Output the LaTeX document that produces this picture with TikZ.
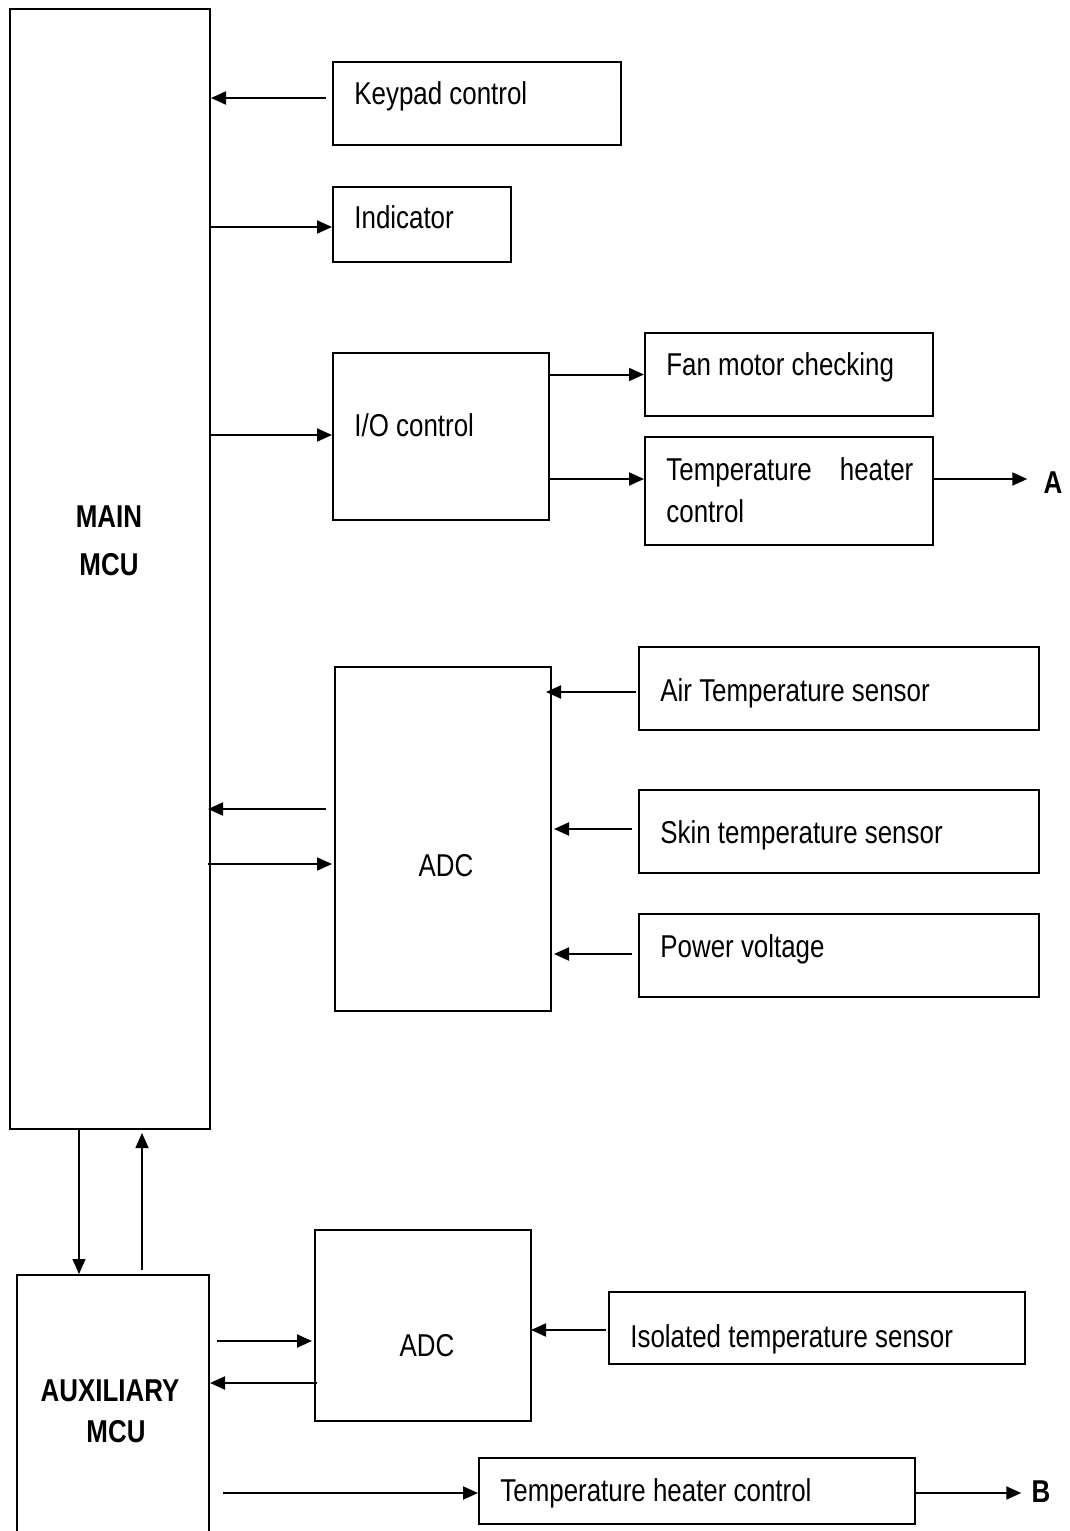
\documentclass[tikz,border=0pt]{standalone}
\usepackage{fontspec}
\setmainfont{Liberation Sans}[FakeStretch=0.82]
\usetikzlibrary{arrows.meta}

\begin{document}
\begin{tikzpicture}[
            x=0.5pt, y=-0.5pt,
            blk/.style={draw, line width=1pt, inner sep=0pt},
            txt/.style={inner sep=0pt, anchor=base west, font=\fontsize{15.8pt}{21pt}\selectfont},
            mcu/.style={inner sep=0pt, align=center, font=\fontsize{15.8pt}{24pt}\selectfont\bfseries},
            arr/.style={-{Triangle[length=7.5pt, width=6.5pt]}, line width=1pt},
            link/.style={-{Triangle[length=7.5pt, width=6.5pt]}, line width=0.7pt}
        ]
            \clip (0,0) rectangle (1070,1531);

            % Blocks
            \node[blk, minimum width=100pt, minimum height=560pt] (main) at (110,569) {};
            \node[blk, minimum width=144pt, minimum height=41.5pt] (key) at (477,103.5) {};
            \node[blk, minimum width=89pt, minimum height=37.5pt] (ind) at (422,224.5) {};
            \node[blk, minimum width=108pt, minimum height=83.5pt] (io) at (441,436.5) {};
            \node[blk, minimum width=144pt, minimum height=41.5pt] (fan) at (789,374.5) {};
            \node[blk, minimum width=144pt, minimum height=54pt] (heatA) at (789,491) {};
            \node[blk, minimum width=108pt, minimum height=172pt] (adc) at (443,839) {};
            \node[blk, minimum width=200pt, minimum height=41.5pt] (air) at (839,688.5) {};
            \node[blk, minimum width=200pt, minimum height=41.5pt] (skin) at (839,831.5) {};
            \node[blk, minimum width=200pt, minimum height=41.5pt] (pwr) at (839,955.5) {};
            \node[blk, minimum width=96pt, minimum height=150pt] (aux) at (113,1425) {};
            \node[blk, minimum width=108pt, minimum height=95.5pt] (adcB) at (423,1325.5) {};
            \node[blk, minimum width=208pt, minimum height=36pt] (iso) at (817,1328) {};
            \node[blk, minimum width=218pt, minimum height=33pt] (heatB) at (697,1491) {};

            % Texts
            \node[mcu] (mainT) at (109,541) {MAIN\\MCU};
            \node[mcu, font=\fontsize{15.8pt}{20.5pt}\selectfont\bfseries] (auxT) at (110,1411) {AUXILIARY\\\hspace{6pt}MCU};
            \node[txt] (keyT) at (354,104) {Keypad control};
            \node[txt] (indT) at (354,228) {Indicator};
            \node[txt] (ioT) at (354,436) {I/O control};
            \node[txt] (fanT) at (666,375) {Fan motor checking};
            \node[txt, anchor=north west, text width=123.5pt, align=left] (heatAT) at (666,457) {Temperature\hfill heater\\control};
            \node[txt, anchor=center] (adcT) at (446,866) {ADC};
            \node[txt] (airT) at (660,701) {Air Temperature sensor};
            \node[txt] (skinT) at (660,843) {Skin temperature sensor};
            \node[txt] (pwrT) at (660,957) {Power voltage};
            \node[txt, anchor=center] (adcBT) at (427,1346) {ADC};
            \node[txt] (isoT) at (630,1347) {Isolated temperature sensor};
            \node[txt] (heatBT) at (500,1501) {Temperature heater control};
            \node[mcu] (A) at (1053,483) {A};
            \node[mcu] (B) at (1041,1492) {B};

            % Main MCU links
            \draw[arr] ([xshift=-3pt,yshift=2.75pt]key.west) -- ([yshift=2.75pt]key.west -| main.east);
            \draw[arr] ([yshift=-1.25pt]ind.west -| main.east) -- ([yshift=-1.25pt]ind.west);
            \draw[arr] ([yshift=0.75pt]io.west -| main.east) -- ([yshift=0.75pt]io.west);
            \draw[arr] (fan.west -| io.east) -- (fan.west);
            \draw[arr] ([yshift=6pt]heatA.west -| io.east) -- ([yshift=6pt]heatA.west);
            \draw[arr, shorten >=8pt] ([yshift=6pt]heatA.east) -- ([yshift=6pt]heatA.east -| A.west);

            % Sensors to ADC
            \draw[arr] ([xshift=-1pt,yshift=-1.75pt]air.west) -- ([xshift=-3pt,yshift=-1.75pt]air.west -| adc.east);
            \draw[arr] ([xshift=-3pt,yshift=1.25pt]skin.west) -- ([xshift=1pt,yshift=1.25pt]skin.west -| adc.east);
            \draw[arr] ([xshift=-3pt,yshift=0.75pt]pwr.west) -- ([xshift=1pt,yshift=0.75pt]pwr.west -| adc.east);
            \draw[arr] ([xshift=-4pt,yshift=15pt]adc.west) -- ([xshift=-1.5pt,yshift=15pt]adc.west -| main.east);
            \draw[arr] ([xshift=-1.5pt,yshift=-12.5pt]adc.west -| main.east) -- ([xshift=-1pt,yshift=-12.5pt]adc.west);

            % Main MCU <-> auxiliary MCU
            \draw[link] ([xshift=-15.5pt]main.south) -- ([xshift=-15.5pt]main.south |- aux.north);
            \draw[link] ([xshift=16pt,yshift=2pt]main.south |- aux.north) -- ([xshift=16pt,yshift=-1.5pt]main.south);

            % Auxiliary MCU links
            \draw[arr] ([xshift=3.5pt,yshift=-7.75pt]adcB.west -| aux.east) -- ([xshift=-1pt,yshift=-7.75pt]adcB.west);
            \draw[arr] ([xshift=1.5pt,yshift=-28.75pt]adcB.west) -- ([yshift=-28.75pt]adcB.west -| aux.east);
            \draw[arr] ([xshift=-1pt,yshift=-1pt]iso.west) -- ([xshift=-0.5pt,yshift=-1pt]iso.west -| adcB.east);
            \draw[arr] ([xshift=6.5pt,yshift=-1pt]heatB.west -| aux.east) -- ([yshift=-1pt]heatB.west);
            \draw[arr, shorten >=5pt] ([yshift=-1pt]heatB.east) -- ([yshift=-1pt]heatB.east -| B.west);
        \end{tikzpicture}
\end{document}
